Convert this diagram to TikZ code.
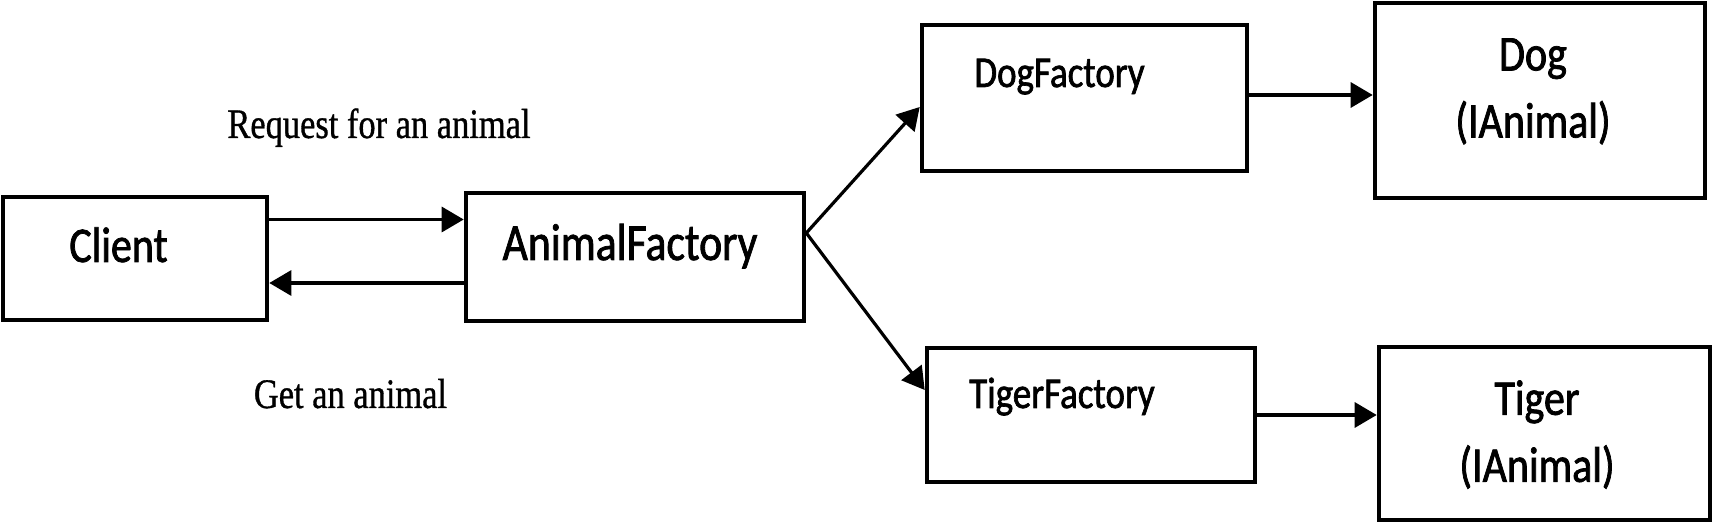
\documentclass[tikz,border=0pt]{standalone}
\usepackage{fontspec}
\usepackage{tikz}
\usepackage{xcolor}
\usetikzlibrary{arrows.meta, calc, positioning}

\newfontfamily\boxfont[FakeStretch = 0.84, FakeBold = 1.5]{Carlito}
\newfontfamily\notefont[FakeStretch = 0.82, FakeBold = 0.8]{Liberation Serif}

\begin{document}
\begin{tikzpicture}[x = 0.5pt, y = -0.5pt,
        block/.style = {draw, rectangle, line width = 2.3pt, inner sep = 0pt},
        boxtext/.style = {inner sep = 0pt, anchor = base, font = \boxfont\fontsize{25pt}{33.5pt}\selectfont},
        smalltext/.style = {inner sep = 0pt, anchor = base, font = \boxfont\fontsize{22pt}{26pt}\selectfont},
        notetext/.style = {inner sep = 0pt, anchor = base, font = \notefont\fontsize{21pt}{25pt}\selectfont},
        arr/.style = {-{Triangle[length = 11pt, width = 12.5pt]}, line width = 1.6pt}
    ]%{{{
                \useasboundingbox (0, 0) rectangle (1714, 523);

                \node (Client) [block, minimum width = 132pt, minimum height = 61.5pt] at (135, 258.5) {};
                \node (AnimalFactory) [block, minimum width = 169pt, minimum height = 64pt] at (635, 257) {};
                \node (DogFactory) [block, minimum width = 162.5pt, minimum height = 73pt] at (1084.5, 98) {};
                \node (TigerFactory) [block, minimum width = 164pt, minimum height = 67pt] at (1091, 415) {};
                \node (Dog) [block, minimum width = 165pt, minimum height = 97.5pt] at (1540, 100.5) {};
                \node (Tiger) [block, minimum width = 165.5pt, minimum height = 86.5pt] at (1544.5, 433.5) {};

                \node (ClientText) [boxtext] at (118.5, 262) { Client };
                \node (AnimalFactoryText) [boxtext, font = \boxfont\fontsize{26pt}{30pt}\selectfont] at (630, 260) { AnimalFactory };
                \node (DogFactoryText) [smalltext] at (1059.5, 87) { DogFactory };
                \node (TigerFactoryText) [smalltext] at (1062, 408) { TigerFactory };
                \node (DogText) [boxtext, anchor = north, align = center] at (1533, 38) { Dog\\(IAnimal) };
                \node (TigerText) [boxtext, anchor = north, align = center] at (1537, 380) { Tiger\\(IAnimal) };

                \node (RequestNote) [notetext] at (379, 138) { Request for an animal };
                \node (GetNote) [notetext] at (350.5, 408) { Get an animal };

                \draw [arr] ([yshift = 19.5pt] Client.east) -- ([yshift = 19.5pt] Client.east -| AnimalFactory.west);
                \draw [arr] ([yshift = -13pt] AnimalFactory.west) -- ([yshift = -13pt] AnimalFactory.west -| Client.east);
                \draw [arr] ([yshift = 12pt] AnimalFactory.east) -- ([yshift = -4.5pt] DogFactory.west);
                \draw [arr] ([yshift = 12pt] AnimalFactory.east) -- ([yshift = 12.5pt] TigerFactory.west);
                \draw [arr] ([yshift = 1.5pt] DogFactory.east) -- ([yshift = 1.5pt] DogFactory.east -| Dog.west);
                \draw [arr] (TigerFactory.east) -- (TigerFactory.east -| Tiger.west);
            \end{tikzpicture}
\end{document}
